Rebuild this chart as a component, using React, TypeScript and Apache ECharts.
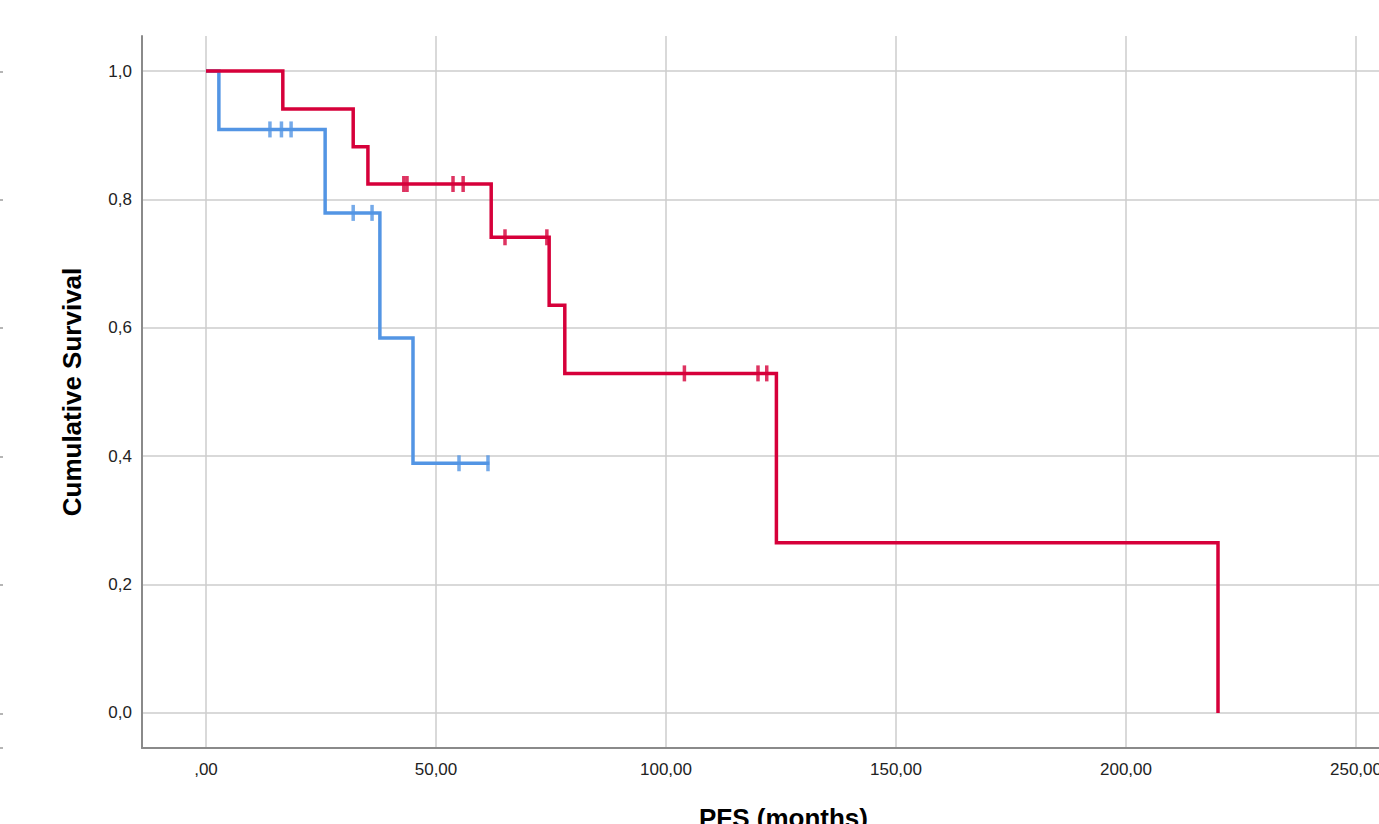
import React, { useEffect, useRef } from "react";
import * as echarts from "echarts";

// ---- Data ----
// Blue group: step points (time in months, cumulative survival after that time)
const blueTimes = [0, 2.8, 25.9, 37.8, 45.0, 61.6];
const blueSurvival = [1.0, 0.909, 0.779, 0.584, 0.389, 0.389];
// Blue group: censored observations
const blueCensorTimes = [13.9, 16.4, 18.5, 32.0, 36.1, 55.0, 61.3];
const blueCensorSurvival = [0.909, 0.909, 0.909, 0.779, 0.779, 0.389, 0.389];

// Red group: step points
const redTimes = [0, 16.7, 32.0, 35.2, 62.0, 74.6, 78.0, 124.0, 220.0];
const redSurvival = [1.0, 0.941, 0.882, 0.824, 0.741, 0.635, 0.529, 0.265, 0.0];
// Red group: censored observations
const redCensorTimes = [43.0, 43.7, 53.7, 55.9, 65.0, 74.1, 104.0, 120.0, 121.9];
const redCensorSurvival = [0.824, 0.824, 0.824, 0.824, 0.741, 0.741, 0.529, 0.529, 0.529];

// Axis ticks and labels
const xTickValues = [0, 50, 100, 150, 200, 250];
const xTickLabels = [",00", "50,00", "100,00", "150,00", "200,00", "250,00"];
const yTickValues = [0, 0.2, 0.4, 0.6, 0.8, 1.0];
const yTickLabels = ["0,0", "0,2", "0,4", "0,6", "0,8", "1,0"];

const xTitle = "PFS (months)";
const yTitle = "Cumulative Survival";

// Axis extents (the plot frame extends a little past the data range)
const X_MIN = -13.913;
const X_MAX = 265;
const Y_MIN = -0.05452;
const Y_MAX = 1.05452;

const RED = "#D6003A";
const BLUE = "#5395E4";
const FONT = "'Liberation Sans', Arial, sans-serif";

const zip = (a: number[], b: number[]) => a.map((v, i) => [v, b[i]]);

export default function App() {
  const ref = useRef<HTMLDivElement>(null);

  useEffect(() => {
    if (!ref.current) return;
    const chart = echarts.init(ref.current, null, { renderer: "svg" });
    const leftMarks = [72, 200, 328, 457, 585, 714, 748];
    chart.setOption({
      animation: false,
      backgroundColor: "#ffffff",
      grid: {
        left: 142,
        top: 36,
        width: 1283,
        height: 712,
        containLabel: false,
        outerBoundsMode: "none",
      },
      xAxis: {
        type: "value",
        min: X_MIN,
        max: X_MAX,
        name: xTitle,
        nameLocation: "middle",
        nameGap: 57,
        nameTextStyle: { fontSize: 26, fontWeight: "bold", fontFamily: FONT, color: "#000" },
        axisLine: { show: true, onZero: false, lineStyle: { color: "#8a8a8a", width: 2 } },
        axisTick: { show: false, customValues: xTickValues },
        axisLabel: {
          customValues: xTickValues,
          fontSize: 17,
          fontFamily: FONT,
          color: "#222",
          margin: 13,
          formatter: (v: number) => {
            const i = xTickValues.findIndex((t) => Math.abs(t - v) < 1e-6);
            return i >= 0 ? xTickLabels[i] : "";
          },
        },
        splitLine: { show: true, lineStyle: { color: "#cccccc", width: 1.5 } },
      },
      yAxis: {
        type: "value",
        min: Y_MIN,
        max: Y_MAX,
        name: yTitle,
        nameLocation: "middle",
        nameGap: 57,
        nameTextStyle: { fontSize: 26, fontWeight: "bold", fontFamily: FONT, color: "#000" },
        axisLine: { show: true, onZero: false, lineStyle: { color: "#8a8a8a", width: 2 } },
        axisTick: { show: false, customValues: yTickValues },
        axisLabel: {
          customValues: yTickValues,
          fontSize: 17,
          fontFamily: FONT,
          color: "#222",
          margin: 10,
          formatter: (v: number) => {
            const i = yTickValues.findIndex((t) => Math.abs(t - v) < 1e-6);
            return i >= 0 ? yTickLabels[i] : "";
          },
        },
        splitLine: { show: true, lineStyle: { color: "#cccccc", width: 1.5 } },
      },
      graphic: leftMarks.map((y) => ({
        type: "rect",
        shape: { x: 0, y: y - 1, width: 3, height: 2 },
        style: { fill: "#b5b5b5" },
        silent: true,
      })),
      series: [
        {
          type: "line",
          step: "end",
          data: zip(blueTimes, blueSurvival),
          showSymbol: false,
          symbol: "none",
          lineStyle: { color: BLUE, width: 3.5, join: "miter" },
          z: 2,
        },
        {
          type: "scatter",
          data: zip(blueCensorTimes, blueCensorSurvival),
          symbol: "rect",
          symbolSize: [3.5, 16],
          itemStyle: { color: BLUE },
          z: 3,
        },
        {
          type: "line",
          step: "end",
          data: zip(redTimes, redSurvival),
          showSymbol: false,
          symbol: "none",
          lineStyle: { color: RED, width: 3.5, join: "miter" },
          z: 4,
        },
        {
          type: "scatter",
          data: zip(redCensorTimes, redCensorSurvival),
          symbol: "rect",
          symbolSize: [3.5, 16],
          itemStyle: { color: RED },
          z: 5,
        },
      ],
    });
    return () => chart.dispose();
  }, []);

  return (
    <div
      style={{
        position: "fixed",
        left: 0,
        top: 0,
        width: 1379,
        height: 824,
        overflow: "hidden",
        background: "#fff",
      }}
    >
      <div ref={ref} style={{ width: 1440, height: 824 }} />
    </div>
  );
}
